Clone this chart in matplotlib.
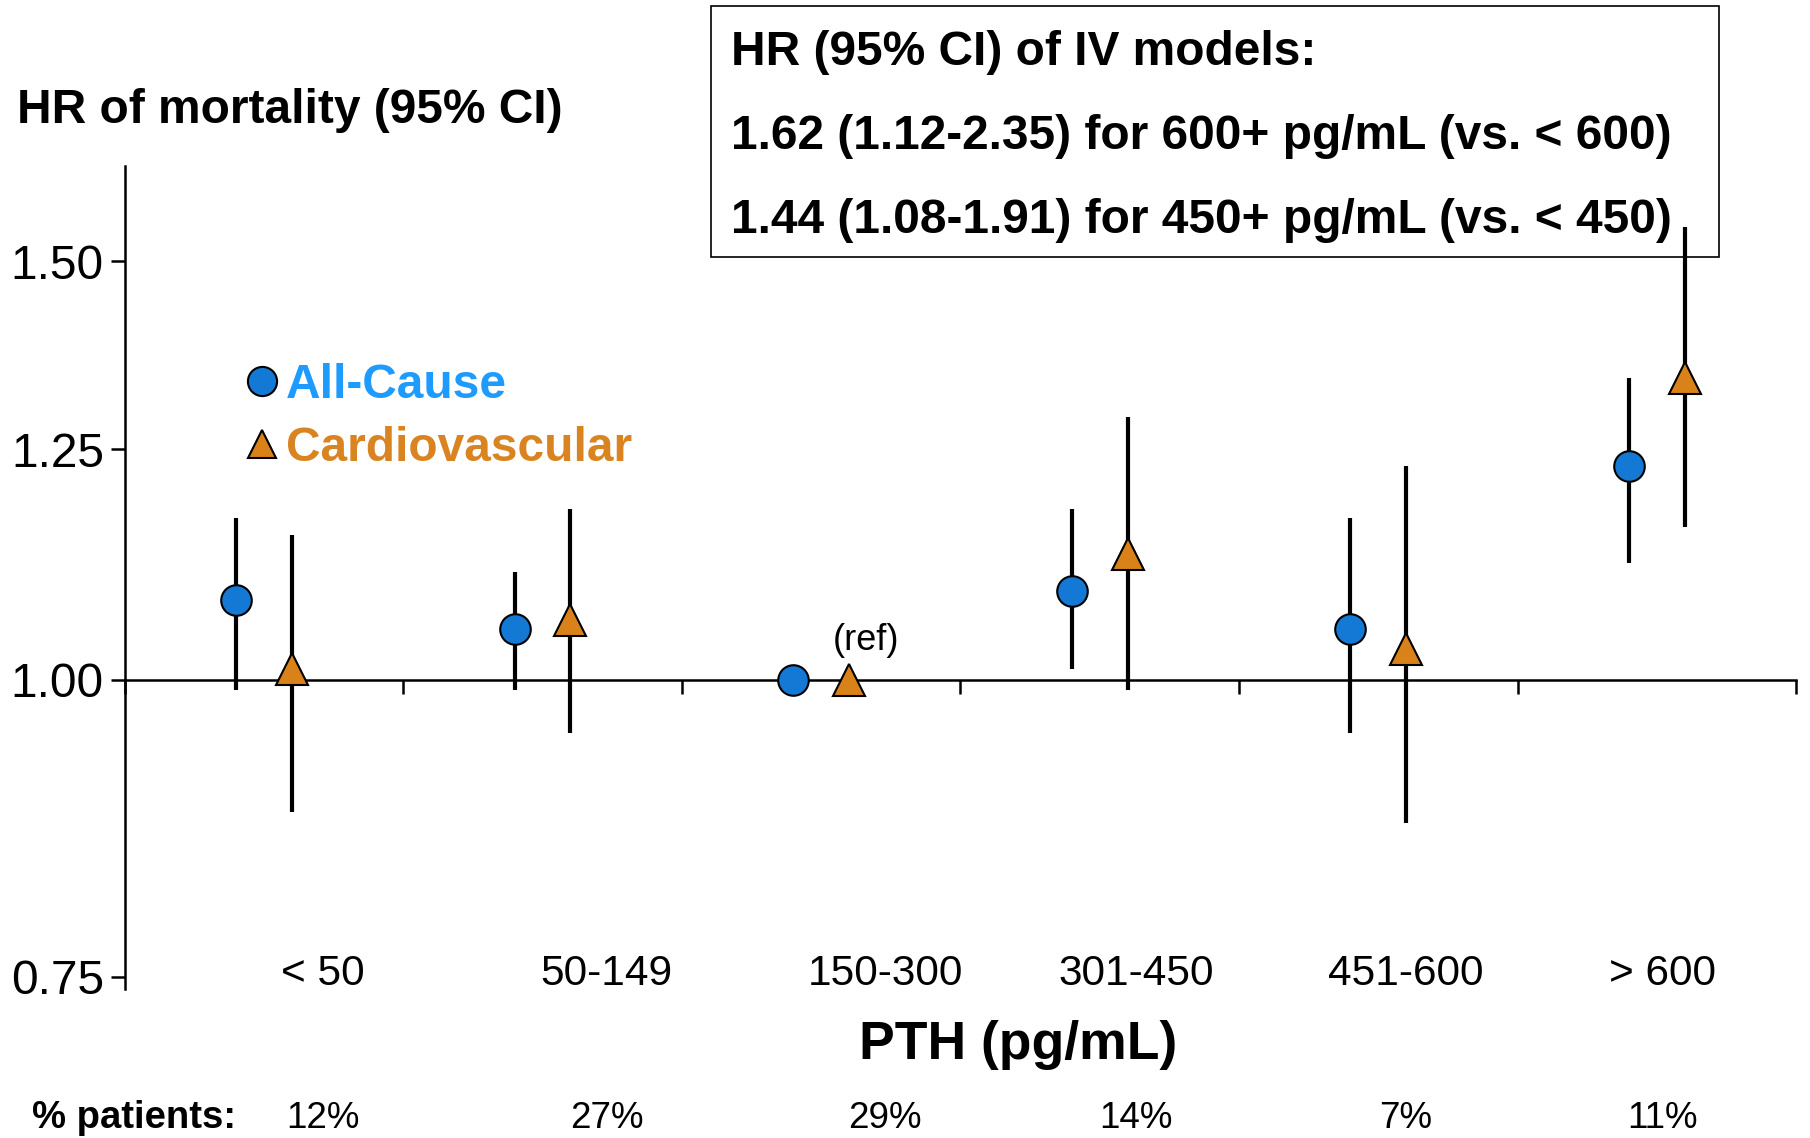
import matplotlib
matplotlib.use("Agg")
import matplotlib.pyplot as plt
from matplotlib.lines import Line2D
from matplotlib.patches import Rectangle
from matplotlib.ticker import NullLocator, FixedLocator, FixedFormatter

plt.rcParams['font.family'] = ['Liberation Sans', 'DejaVu Sans']

# PTH groups and hazard ratios (95% CI)
groups = ['< 50', '50-149', '150-300', '301-450', '451-600', '> 600']
pct_patients = ['12%', '27%', '29%', '14%', '7%', '11%']

allcause_hr = [1.08, 1.05, 1.00, 1.09, 1.05, 1.23]
allcause_lo = [0.99, 0.99, 1.00, 1.01, 0.95, 1.12]
allcause_hi = [1.17, 1.11, 1.00, 1.18, 1.17, 1.34]

cardio_hr = [1.01, 1.06, 1.00, 1.13, 1.03, 1.34]
cardio_lo = [0.88, 0.95, 1.00, 0.99, 0.87, 1.16]
cardio_hi = [1.15, 1.18, 1.00, 1.29, 1.23, 1.55]

yticks = [0.75, 1.00, 1.25, 1.50]
box_lines = ['HR (95% CI) of IV models:',
             '1.62 (1.12-2.35) for 600+ pg/mL (vs. < 600)',
             '1.44 (1.08-1.91) for 450+ pg/mL (vs. < 450)']

# label nudges within each category (text boxes sit a bit right of centre)
label_shift = [0.21, 0.23, 0.23, 0.13, 0.10, 0.02]

ac_fill, ac_text = '#1479d4', '#1e9bff'
cv_fill, cv_text = '#d98219', '#d98420'

fig = plt.figure(figsize=(18.1, 11.38), dpi=100)
ax = fig.add_axes([0.0689, 0.1309, 0.9234, 0.7232])

x = [i + 0.5 for i in range(len(groups))]
x_ac = [v - 0.1 for v in x]
x_cv = [v + 0.1 for v in x]

err_ac = [[h - l for h, l in zip(allcause_hr, allcause_lo)],
          [u - h for h, u in zip(allcause_hr, allcause_hi)]]
err_cv = [[h - l for h, l in zip(cardio_hr, cardio_lo)],
          [u - h for h, u in zip(cardio_hr, cardio_hi)]]

ax.errorbar(x_ac, allcause_hr, yerr=err_ac, fmt='o', ms=22, mfc=ac_fill, mec='black',
            mew=1.5, ecolor='black', elinewidth=3, capsize=0, zorder=4, clip_on=False)
ax.errorbar(x_cv, cardio_hr, yerr=err_cv, fmt='^', ms=23, mfc=cv_fill, mec='black',
            mew=1.5, ecolor='black', elinewidth=3, capsize=0, zorder=4, clip_on=False)

ax.set_yscale('log')
ax.set_ylim(0.741, 1.645)
ax.set_xlim(0, len(groups))
ax.yaxis.set_major_locator(FixedLocator(yticks))
ax.yaxis.set_major_formatter(FixedFormatter(['%.2f' % v for v in yticks]))
ax.yaxis.set_minor_locator(NullLocator())
ax.set_xticks(range(len(groups) + 1))
ax.set_xticklabels([])

for s in ['top', 'right']:
    ax.spines[s].set_visible(False)
ax.spines['bottom'].set_position(('data', 1.0))
ax.spines['left'].set_linewidth(1.8)
ax.spines['bottom'].set_linewidth(1.8)
ax.tick_params(axis='y', direction='out', length=10, width=1.8, labelsize=34.5, pad=5)
ax.tick_params(axis='x', direction='out', length=10, width=1.8)

# reference group note, just above the cardiovascular marker
ax.text(x_cv[2] + 0.06, 1.0, '(ref)', fontsize=26, ha='center', va='bottom',
        transform=ax.transData + matplotlib.transforms.ScaledTranslation(0, 0.22, fig.dpi_scale_trans))

# category and percentage labels under the axis
trans = matplotlib.transforms.blended_transform_factory(ax.transData, fig.transFigure)
for xi, g, p, s in zip(x, groups, pct_patients, label_shift):
    ax.text(xi + s, 0.1437, g, fontsize=30.5, ha='center', va='center', transform=trans)
    ax.text(xi + s, 0.0172, p, fontsize=26.5, ha='center', va='center', transform=trans)

fig.text(0.0177, 0.0172, '% patients:', fontsize=27.5, fontweight='bold', ha='left', va='center')
fig.text(0.5624, 0.0818, 'PTH (pg/mL)', fontsize=38.5, fontweight='bold', ha='center', va='center')
fig.text(0.0094, 0.9025, 'HR of mortality (95% CI)', fontsize=34.5, fontweight='bold',
         ha='left', va='center')

# legend
handles = [Line2D([], [], ls='none', marker='o', ms=21, mfc=ac_fill, mec='black', mew=1.5),
           Line2D([], [], ls='none', marker='^', ms=20, mfc=cv_fill, mec='black', mew=1.5)]
leg = fig.legend(handles, ['All-Cause', 'Cardiovascular'], loc='center left',
                 bbox_to_anchor=(0.1367, 0.6335), frameon=False, handlelength=0.6,
                 handletextpad=0.2, labelspacing=0.38, borderpad=0, borderaxespad=0,
                 prop={'size': 34.5, 'weight': 'bold'})
for t, c in zip(leg.get_texts(), [ac_text, cv_text]):
    t.set_color(c)

# IV model summary box
fig.add_artist(Rectangle((0.3928, 0.7742), 0.557, 0.2206, transform=fig.transFigure,
                         fill=False, ec='black', lw=1.2))
for i, line in enumerate(box_lines):
    fig.text(0.4039, 0.9535 - i * 0.0738, line, fontsize=34.5, fontweight='bold',
             ha='left', va='center')

fig.savefig('out.png', dpi=100)
